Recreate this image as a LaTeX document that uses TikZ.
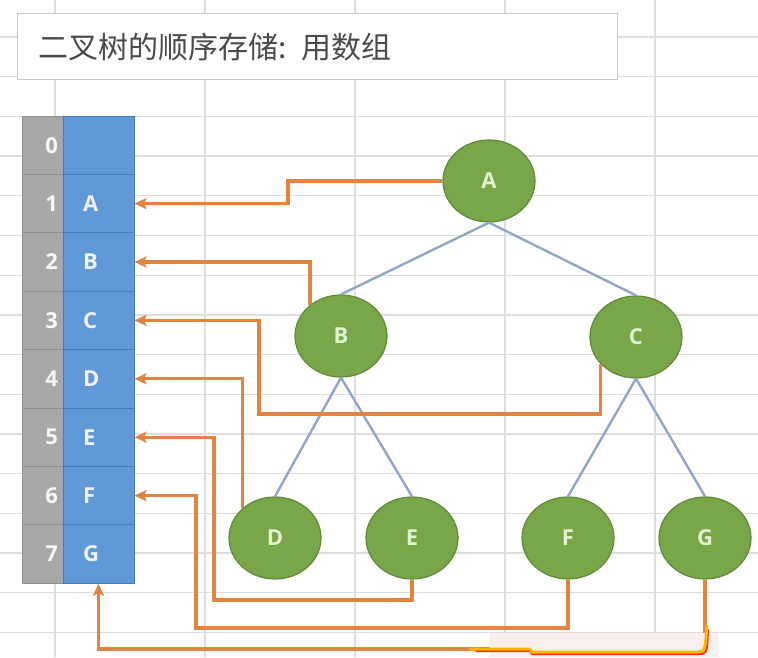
\documentclass[tikz,border=0pt]{standalone}
\usepackage{fontspec}
\setmainfont{Open Sans}
\newfontfamily\cjkfont{Noto Sans CJK SC}
\usetikzlibrary{shapes.geometric,arrows.meta}
\definecolor{gridc}{HTML}{DEDEDE}
\definecolor{greenfill}{HTML}{78A648}
\definecolor{greenline}{HTML}{5F8A38}
\definecolor{greentext}{HTML}{E2F2D0}
\definecolor{bluefill}{HTML}{6199D6}
\definecolor{blueline}{HTML}{4A7CB5}
\definecolor{grayfill}{HTML}{A8A8A8}
\definecolor{grayline}{HTML}{8E8E8E}
\definecolor{orangec}{HTML}{E2843F}
\definecolor{edgec}{HTML}{8FA7CD}
\definecolor{titlec}{HTML}{4A4A4A}
\definecolor{boxline}{HTML}{C8C8C8}
\definecolor{patchc}{HTML}{F7F0ED}
\definecolor{hlyellow}{HTML}{FFB400}
\definecolor{hlred}{HTML}{FF2A1A}
\begin{document}
\begin{tikzpicture}[x=1pt,y=-1pt,
  treenode/.style={ellipse,draw=greenline,line width=1.2pt,fill=greenfill,
    minimum width=92pt,minimum height=82pt,inner sep=0pt,text=greentext,
    font=\fontsize{22}{26}\selectfont\bfseries},
  graycell/.style={rectangle,draw=grayline,line width=1pt,fill=grayfill,
    minimum height=58.4pt,text width=31pt,inner xsep=5pt,inner ysep=0pt,align=right,
    text=white!94!gray,font=\fontsize{22}{26}\selectfont\bfseries},
  bluecell/.style={rectangle,draw=blueline,line width=1pt,fill=bluefill,
    minimum height=58.4pt,text width=31pt,inner xsep=20pt,inner ysep=0pt,align=left,
    text=white!94!blue,font=\fontsize{22}{26}\selectfont\bfseries},
  treeedge/.style={draw=edgec,line width=2.4pt},
  link/.style={draw=orangec,line width=3.2pt,-{Stealth[length=12pt,width=11pt,inset=2.5pt]}},
  gridline/.style={draw=gridc,line width=1.3pt}]
\useasboundingbox (0,0) rectangle (758,657);
\fill[white] (0,0) rectangle (758,657);
% spreadsheet grid
\foreach \gx in {55,205,355,505,655} \draw[gridline] (\gx,0) -- (\gx,657);
\foreach \k in {0,...,15} \draw[gridline] (0,{37+39.7*\k}) -- (758,{37+39.7*\k});
% title
\node[rectangle,draw=boxline,line width=1.2pt,fill=white,minimum height=66pt,
  text width=558pt,inner xsep=21pt,align=left,anchor=north west,text=titlec,
  font=\cjkfont\fontsize{30}{33}\selectfont] (title) at (17,13) {二叉树的顺序存储: 用数组};
% array
\foreach \i/\t in {0/{},1/A,2/B,3/C,4/D,5/E,6/F,7/G} {
  \node[graycell] (g\i) at (42.5,{145.2+58.4*\i}) {\i};
  \node[bluecell] (c\i) at (98.5,{145.2+58.4*\i}) {\t};
}
% tree
\node[treenode] (A) at (489,181) {A};
\node[treenode] (B) at (341,336) {B};
\node[treenode] (C) at (636,337) {C};
\node[treenode] (D) at (275,538) {D};
\node[treenode] (E) at (412,538) {E};
\node[treenode] (F) at (568,538) {F};
\node[treenode] (G) at (705,538) {G};
\draw[treeedge] (A.south) -- (B.north);
\draw[treeedge] (A.south) -- (C.north);
\draw[treeedge] (B.south) -- (D.north);
\draw[treeedge] (B.south) -- (E.north);
\draw[treeedge] (C.south) -- (F.north);
\draw[treeedge] (C.south) -- (G.north);
% bends
\coordinate (abend) at (288,181);
\coordinate (cbend) at (259,414);
\coordinate (ebend) at (214,600);
\coordinate (fbend) at (196,628);
\coordinate (gbend) at (98.5,649);
% links to array
\draw[link] (A.west) -- (abend) |- (c1.east);
\draw[link] (B.135) |- (c2.east);
\draw[link] (C.217) |- (cbend) |- (c3.east);
\draw[link] (D.137) |- (c4.east);
\draw[link] (E.south) |- (ebend) |- (c5.east);
\draw[link] (F.south) |- (fbend) |- (c6.east);
\draw[link] (G.south) |- (gbend) -- (c7.south);
% pale patch and highlighter stroke at the bottom
\fill[patchc] (490,633) rectangle (718,657);
\draw[hlred,line width=2pt,line cap=round,line join=round]
  (476,651) -- (530,651) -- (532,654) -- (698,654) .. controls (707,654) .. (708,630);
\draw[hlyellow,line width=3pt,line cap=round,line join=round]
  (470,649) -- (530,649) -- (532,652) -- (697,652) .. controls (705,652) .. (707,626);
\end{tikzpicture}
\end{document}
